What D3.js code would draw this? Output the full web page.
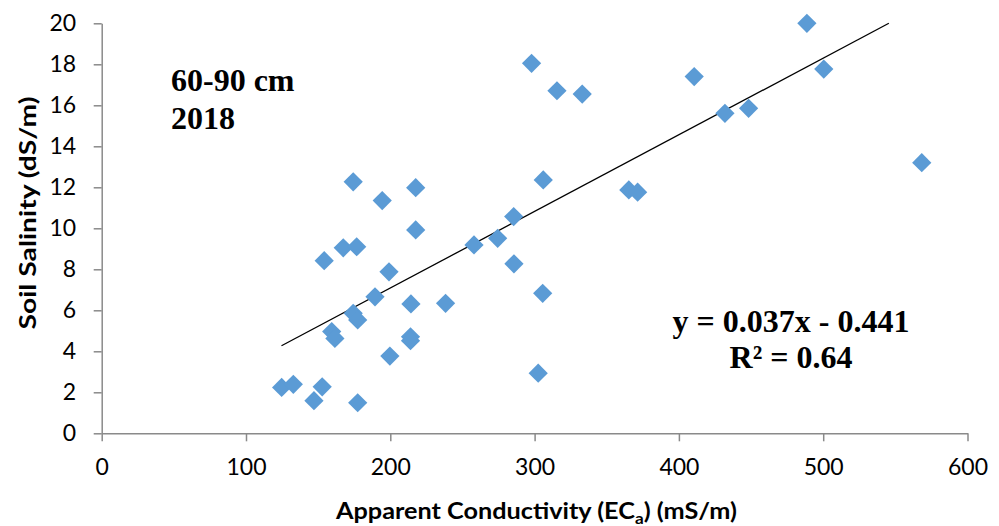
<!DOCTYPE html>
<html>
<head>
<meta charset="utf-8">
<script src="https://cdn.jsdelivr.net/npm/d3@7"></script>
<style>
    body { margin: 0; background: #fff; }
    svg { display: block; }
    .tick text { font-family: Lato, "Open Sans", sans-serif; font-size: 23px; fill: #000; }
    .axis-title { font-family: Lato, "Open Sans", sans-serif; font-size: 22px; font-weight: bold; fill: #000; }
    .note { font-family: "Liberation Serif", "DejaVu Serif", serif; font-size: 32px; font-weight: bold; fill: #000; }
</style>
</head>
<body>
<svg width="999" height="526"></svg>
<script>
// apparent conductivity (mS/m) and soil salinity (dS/m)
const ecaValues = [124.7, 132.8, 147.1, 152.8, 177.4, 154.2, 167.4, 176.7, 174.3, 194.4,
    217.6, 217.6, 199.1, 189.4, 174.3, 177.4, 159.4, 161.6, 199.7, 214.0,
    214.0, 214.3, 238.3, 258.0, 274.4, 285.5, 285.7, 305.6, 302.5, 297.9,
    315.5, 333.0, 306.0, 365.3, 371.4, 410.6, 431.9, 448.3, 488.7, 500.4, 568.3];
const salinityValues = [2.24, 2.39, 1.59, 2.27, 1.49, 8.42, 9.05, 9.10, 12.27, 11.35,
    11.98, 9.92, 7.88, 6.66, 5.85, 5.53, 4.96, 4.63, 3.77, 4.71,
    4.52, 6.31, 6.34, 9.19, 9.51, 10.57, 8.27, 6.83, 2.93, 18.05,
    16.71, 16.55, 12.36, 11.87, 11.76, 17.40, 15.61, 15.85, 20.0, 17.77, 13.20];

// trendline end points
const trendX = [124.6, 545.5];
const trendY = [4.27, 20.0];

const xTicks = [0, 100, 200, 300, 400, 500, 600];
const yTicks = [0, 2, 4, 6, 8, 10, 12, 14, 16, 18, 20];

const svg = d3.select("svg");
const margin = { left: 101.7, right: 31.5, top: 23.3, bottom: 92.7 };
const width = 999, height = 526;

const x = d3.scaleLinear().domain([0, 600]).range([margin.left, width - margin.right]);
const y = d3.scaleLinear().domain([0, 20]).range([height - margin.bottom, margin.top]);

const axisColor = "#8a8a8a";

const xAxis = svg.append("g")
    .attr("transform", `translate(0,${y(0)})`)
    .call(d3.axisBottom(x).tickValues(xTicks).tickSize(8).tickPadding(17).tickSizeOuter(0));
xAxis.select(".domain").attr("stroke", axisColor).attr("stroke-width", 1.5);
xAxis.selectAll(".tick line").attr("stroke", axisColor).attr("stroke-width", 1.5);

const yAxis = svg.append("g")
    .attr("transform", `translate(${x(0)},0)`)
    .call(d3.axisLeft(y).tickValues(yTicks).tickSize(8).tickPadding(17.5).tickSizeOuter(0));
yAxis.select(".domain").attr("stroke", axisColor).attr("stroke-width", 1.5);
yAxis.selectAll(".tick line").attr("stroke", axisColor).attr("stroke-width", 1.5);

// axis titles
const xTitle = svg.append("text")
    .attr("class", "axis-title")
    .attr("x", 336)
    .attr("y", 519)
    .attr("textLength", 401)
    .attr("lengthAdjust", "spacingAndGlyphs");
xTitle.append("tspan").text("Apparent Conductivity (EC");
xTitle.append("tspan").attr("font-size", 15).attr("dy", 5).text("a");
xTitle.append("tspan").attr("dy", -5).text(") (mS/m)");

svg.append("text")
    .attr("class", "axis-title")
    .attr("transform", "translate(36,213) rotate(-90)")
    .attr("text-anchor", "middle")
    .attr("textLength", 233)
    .attr("lengthAdjust", "spacingAndGlyphs")
    .text("Soil Salinity (dS/m)");

// trendline
svg.append("line")
    .attr("x1", x(trendX[0]))
    .attr("y1", y(trendY[0]))
    .attr("x2", x(trendX[1]))
    .attr("y2", y(trendY[1]))
    .attr("stroke", "#000")
    .attr("stroke-width", 1.3);

// points
const diamond = d3.symbol().type(d3.symbolSquare).size(185);
svg.append("g")
    .selectAll("path")
    .data(ecaValues.map((v, i) => [v, salinityValues[i]]))
    .enter().append("path")
    .attr("d", diamond)
    .attr("transform", d => `translate(${x(d[0])},${y(d[1])}) rotate(45)`)
    .attr("fill", "#5b9bd5");

// annotations
svg.append("text").attr("class", "note").attr("x", 171).attr("y", 91).text("60-90 cm");
svg.append("text").attr("class", "note").attr("x", 171).attr("y", 129).text("2018");

svg.append("text").attr("class", "note")
    .attr("x", 791).attr("y", 332).attr("text-anchor", "middle")
    .text("y = 0.037x - 0.441");
svg.append("text").attr("class", "note")
    .attr("x", 791).attr("y", 368).attr("text-anchor", "middle")
    .text("R² = 0.64");
</script>
</body>
</html>
